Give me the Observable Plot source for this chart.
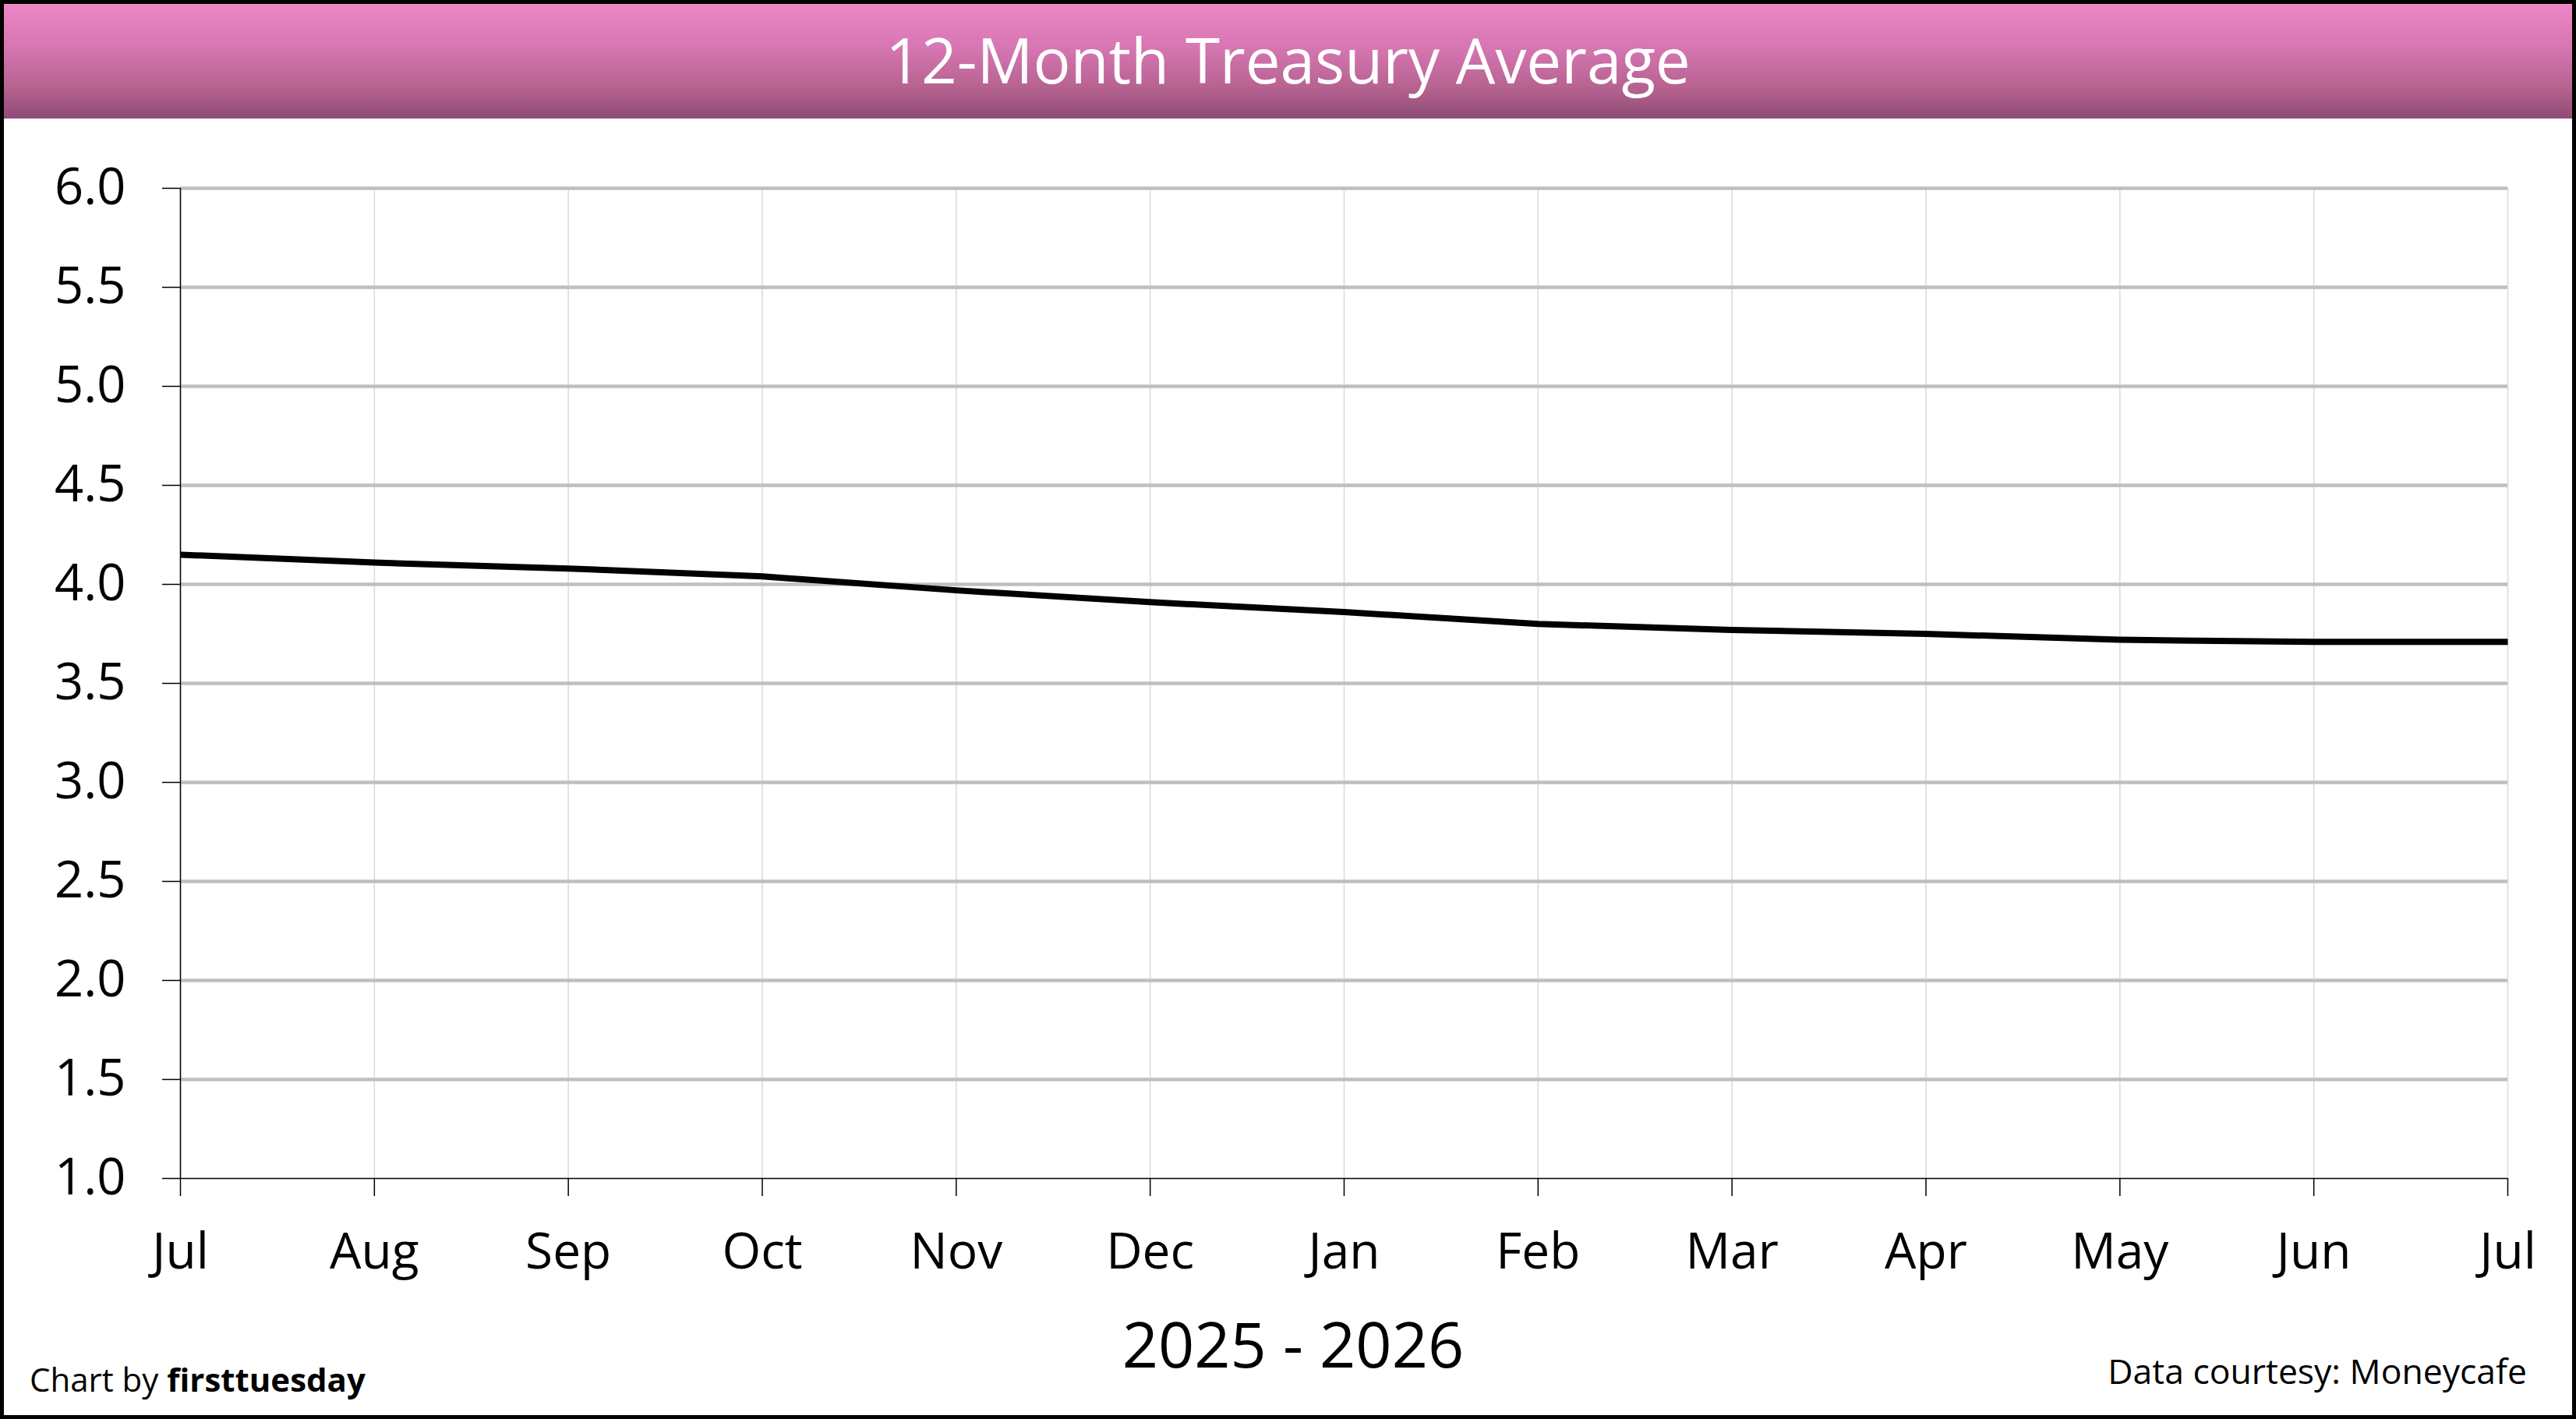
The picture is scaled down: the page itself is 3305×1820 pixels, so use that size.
<!DOCTYPE html>
<html>
<head>
<meta charset="utf-8">
<script src="https://cdn.jsdelivr.net/npm/d3@7"></script>
<script src="https://cdn.jsdelivr.net/npm/@observablehq/plot@0.6"></script>
<style>
  html, body { margin: 0; padding: 0; background: white; }
  #wrap { position: relative; width: 3305px; height: 1820px; background: white; overflow: hidden; font-family: "Open Sans", "Noto Sans", sans-serif; color: black; }
  #title { position: absolute; left: 0; top: 0; width: 3305px; height: 152px;
           background: linear-gradient(to bottom, #F088C8 0%, #D676B2 40%, #B5628F 75%, #8E4C76 100%);
           color: white; font-size: 80px; line-height: 1; display: flex; align-items: center; justify-content: center; }
  #chart { position: absolute; left: 0; top: 152px; }
  .txt { position: absolute; line-height: 1; white-space: nowrap; }
  #xtitle { left: 1159px; width: 1000px; text-align: center; font-size: 81px; top: 1682px; }
  #credit { left: 38px; font-size: 42px; top: 1748px; }
  #source { right: 63px; font-size: 44.5px; top: 1736px; }
  #frame { position: absolute; left: 0; top: 0; width: 3305px; height: 1820px; box-sizing: border-box; border: 5px solid black; pointer-events: none; }
</style>
</head>
<body>
<div id="wrap">
  <div id="title">12-Month Treasury Average</div>
  <div id="chart"></div>
  <div id="xtitle" class="txt">2025 - 2026</div>
  <div id="credit" class="txt">Chart by <b>firsttuesday</b></div>
  <div id="source" class="txt">Data courtesy: Moneycafe</div>
  <div id="frame"></div>
</div>
<script>
const months = ["Jul","Aug","Sep","Oct","Nov","Dec","Jan","Feb","Mar","Apr","May","Jun","Jul"];
const rates = [4.15, 4.11, 4.08, 4.04, 3.97, 3.91, 3.86, 3.80, 3.77, 3.75, 3.72, 3.71, 3.71];
const yTicks = [1.0, 1.5, 2.0, 2.5, 3.0, 3.5, 4.0, 4.5, 5.0, 5.5, 6.0];

const data = months.map((m, i) => ({i, m, v: rates[i]}));
const idx = d3.range(months.length);

const chart = Plot.plot({
  width: 3305,
  height: 1528,
  marginTop: 89,
  marginBottom: 169,
  marginLeft: 231,
  marginRight: 88,
  style: {fontFamily: "'Open Sans', 'Noto Sans', sans-serif", fontSize: "64px", color: "black", background: "transparent", overflow: "visible"},
  x: {type: "linear", domain: [0, months.length - 1]},
  y: {domain: [1, 6]},
  marks: [
    Plot.gridX(idx, {stroke: "#D9D9D9", strokeOpacity: 1, strokeWidth: 1.5}),
    Plot.gridY(yTicks.slice(1), {stroke: "#BFBFBF", strokeOpacity: 1, strokeWidth: 4.5}),
    Plot.ruleX([0], {stroke: "black", strokeWidth: 1.5}),
    Plot.ruleY([1], {stroke: "black", strokeWidth: 1.5}),
    Plot.axisY(yTicks, {tickSize: 23, tickPadding: 47, strokeWidth: 1.5, tickFormat: d => d.toFixed(1), fontSize: 65, label: null}),
    Plot.axisX(idx, {tickSize: 23, tickPadding: 47, strokeWidth: 1.5, tickFormat: i => months[i], fontSize: 64, label: null}),
    Plot.lineY(data, {x: "i", y: "v", stroke: "black", strokeWidth: 8, strokeLinecap: "butt", strokeLinejoin: "round"})
  ]
});
document.getElementById("chart").appendChild(chart);
</script>
</body>
</html>
